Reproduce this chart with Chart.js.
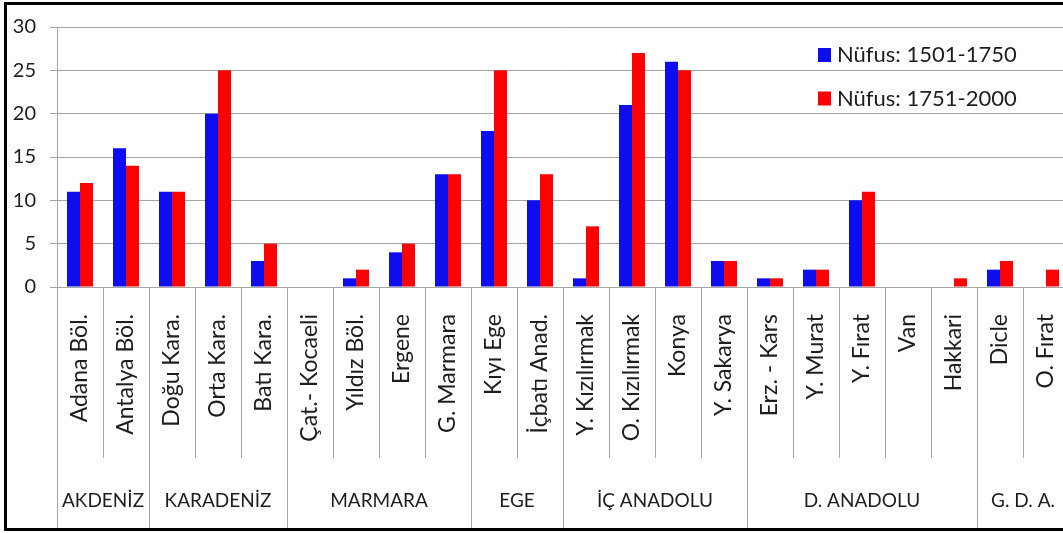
<!DOCTYPE html>
<html lang="tr">
<head>
<meta charset="UTF-8">
<title>Nüfus 1501-1750 / 1751-2000</title>
<script src="https://cdn.jsdelivr.net/npm/chart.js@4.4.1/dist/chart.umd.min.js"></script>
<style>
  html, body { margin: 0; padding: 0; background: #fff; overflow: hidden; width: 1063px; height: 533px; }
  .frame { position: absolute; left: 4px; top: 2px; width: 1080px; height: 523px; border: 3px solid #000; overflow: hidden; background: #fff; }
  canvas { position: absolute; left: 0; top: 0; }
</style>
</head>
<body>
<div class="frame">
  <canvas id="chart" width="1062" height="523"></canvas>
</div>
<script>
const categories = [
  'Adana Böl.', 'Antalya Böl.',
  'Doğu Kara.', 'Orta Kara.', 'Batı Kara.',
  'Çat.- Kocaeli', 'Yıldız Böl.', 'Ergene', 'G. Marmara',
  'Kıyı Ege', 'İçbatı Anad.',
  'Y. Kızılırmak', 'O. Kızılırmak', 'Konya', 'Y. Sakarya',
  'Erz. - Kars', 'Y. Murat', 'Y. Fırat', 'Van', 'Hakkari',
  'Dicle', 'O. Fırat'
];
const groupNames = ['AKDENİZ', 'KARADENİZ', 'MARMARA', 'EGE', 'İÇ ANADOLU', 'D. ANADOLU', 'G. D. A.'];
const groupSizes = [2, 3, 4, 2, 4, 5, 2];

const nufus1501 = [11, 16, 11, 20, 3, 0, 1, 4, 13, 18, 10, 1, 21, 26, 3, 1, 2, 10, 0, 0, 2, 0];
const nufus1751 = [12, 14, 11, 25, 5, 0, 2, 5, 13, 25, 13, 7, 27, 25, 3, 1, 2, 11, 0, 1, 3, 2];

const seriesNames = ['Nüfus: 1501-1750', 'Nüfus: 1751-2000'];
const seriesColors = ['#0d0df0', '#ff0000'];

const GRID = '#a6a6a6';
const TEXT = '#1e1e1e';
const FONT = 'Lato';

// separators between categories / groups, group names and the legend
const groupPlugin = {
  id: 'groupPlugin',
  afterDraw(chart) {
    const ctx = chart.ctx;
    const x = chart.scales.x;
    const area = chart.chartArea;
    const half = (x.getPixelForValue(1) - x.getPixelForValue(0)) / 2;
    const bounds = [0];
    let acc = 0;
    groupSizes.forEach((n) => { acc += n; bounds.push(acc); });

    ctx.save();
    ctx.strokeStyle = GRID;
    ctx.lineWidth = 1;
    for (let i = 0; i <= categories.length; i++) {
      const px = Math.round(x.getPixelForValue(i) - half) + 0.5;
      const isGroup = bounds.includes(i);
      ctx.beginPath();
      ctx.moveTo(px, area.bottom);
      ctx.lineTo(px, isGroup ? chart.height : area.bottom + 171);
      ctx.stroke();
    }

    ctx.fillStyle = TEXT;
    ctx.font = '19px ' + FONT;
    ctx.textAlign = 'center';
    ctx.textBaseline = 'middle';
    groupNames.forEach((name, g) => {
      const a = x.getPixelForValue(bounds[g]) - half;
      const b = x.getPixelForValue(bounds[g + 1]) - half;
      ctx.fillText(name, (a + b) / 2, 496);
    });

    // legend
    ctx.font = '22px ' + FONT;
    ctx.textAlign = 'left';
    seriesNames.forEach((name, i) => {
      const y = 50 + i * 43.5;
      ctx.fillStyle = seriesColors[i];
      ctx.fillRect(811, y - 7, 13, 14);
      ctx.fillStyle = TEXT;
      ctx.fillText(name, 830, y);
    });
    ctx.restore();
  }
};

new Chart(document.getElementById('chart'), {
  type: 'bar',
  data: {
    labels: categories,
    datasets: [
      { label: seriesNames[0], data: nufus1501, backgroundColor: seriesColors[0], borderWidth: 0 },
      { label: seriesNames[1], data: nufus1751, backgroundColor: seriesColors[1], borderWidth: 0 }
    ]
  },
  options: {
    responsive: false,
    animation: false,
    devicePixelRatio: 1,
    layout: { padding: { top: 22, right: 0, left: 0, bottom: 0 } },
    datasets: { bar: { barPercentage: 1, categoryPercentage: 0.565 } },
    plugins: { legend: { display: false }, tooltip: { enabled: false } },
    scales: {
      x: {
        grid: { display: false, drawTicks: false },
        border: { display: false },
        ticks: {
          autoSkip: false, minRotation: 90, maxRotation: 90, padding: 27,
          color: TEXT, font: { family: FONT, size: 23 }
        },
        afterFit(scale) {
          scale.height = 241;
          scale.paddingLeft = 0;
          scale.paddingRight = 0;
        }
      },
      y: {
        min: 0, max: 30,
        grid: { color: GRID, lineWidth: 1, tickLength: 7 },
        border: { color: GRID, width: 1 },
        ticks: { stepSize: 5, padding: 14, color: TEXT, font: { family: FONT, size: 20 } },
        afterFit(scale) {
          scale.width = 50;
          scale.paddingTop = 0;
          scale.paddingBottom = 0;
        }
      }
    }
  },
  plugins: [groupPlugin]
});
</script>
</body>
</html>
